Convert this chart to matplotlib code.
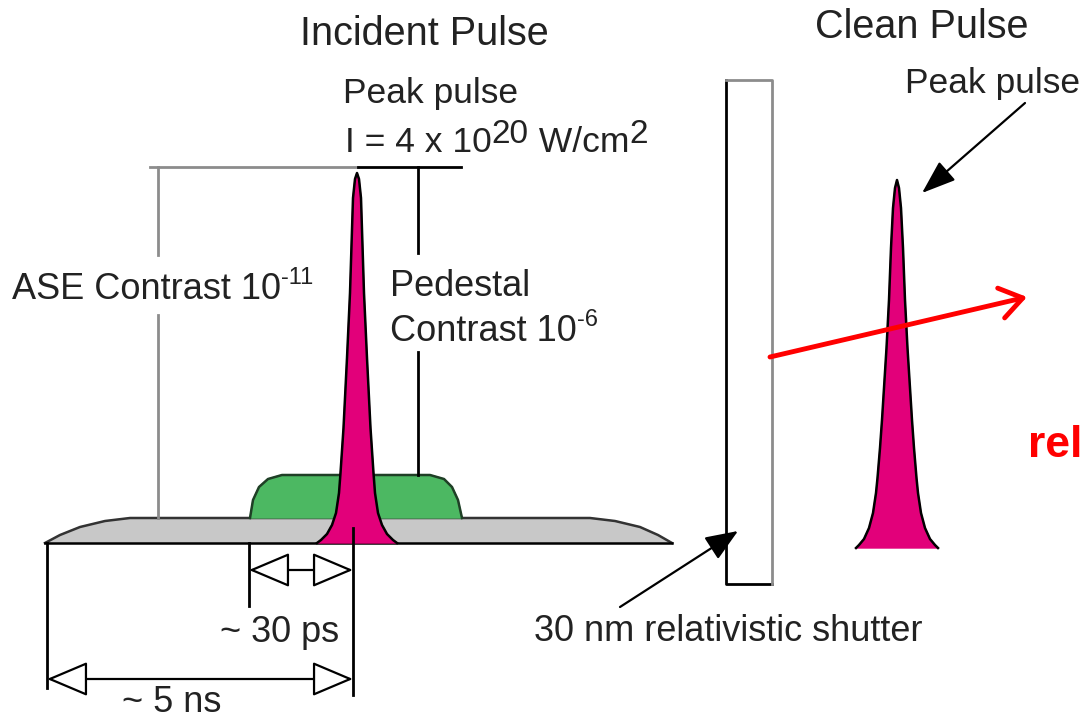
import matplotlib
matplotlib.use("Agg")
import matplotlib.pyplot as plt
import numpy as np

plt.rcParams["font.family"] = ["Liberation Sans", "DejaVu Sans"]

# pulse outlines (right half: offset from centre, height above base, px)
incident_dx = [0, 2, 4, 7, 10, 13.5, 16.5, 18, 21, 25, 30, 36, 40]
incident_h = [370, 364, 345, 250, 185, 115, 70, 50, 30, 18, 9, 3, 0]
clean_dx = [0, 2, 4, 6, 8, 10.5, 12.5, 15, 17, 19.5, 21, 24, 28, 33, 38, 41]
clean_h = [368, 360, 340, 300, 248, 200, 168, 128, 100, 70, 55, 35, 20, 9, 3, 0]

# ASE background and pedestal outlines (px)
ase_x = [45, 60, 80, 105, 130, 590, 615, 640, 658, 672]
ase_y = [543, 535, 527, 521, 518, 518, 521, 527, 535, 543]
ped_x = [250, 253, 259, 268, 282, 430, 444, 452, 458, 462]
ped_y = [518, 500, 487, 479, 475, 475, 479, 487, 500, 518]

titles = ["Incident Pulse", "Clean Pulse"]
peak_label = "Peak pulse"
intensity_parts = ["I = 4 x 10", "20", " W/cm", "2"]
ase_parts = ["ASE Contrast 10", "-11"]
ped_parts = ["Pedestal", "Contrast 10", "-6"]
dur_labels = ["~ 30 ps", "~ 5 ns"]
shutter_label = "30 nm relativistic shutter"
cut_label = "rel"

MAGENTA = "#e2007a"
GREEN = "#4cb862"
GREY = "#c8c8c8"
LINE_GREY = "#8c8c8c"
TXT = "#222222"

fig = plt.figure(figsize=(10.85, 7.21), dpi=100)
ax = fig.add_axes([0, 0, 1, 1])
ax.set_xlim(0, 1085)
ax.set_ylim(721, 0)
ax.axis("off")
renderer = fig.canvas.get_renderer()


def seq_text(x, y, parts, **kw):
    # parts: (text, fontsize, raise in px)
    for s, size, dy in parts:
        t = ax.text(x, y - dy, s, fontsize=size, va="baseline", ha="left", color=TXT, **kw)
        bb = t.get_window_extent(renderer)
        x = ax.transData.inverted().transform((bb.x1, bb.y0))[0]
    return x


def pulse(cx, base, dx, h, z):
    dx = np.array(dx)
    h = np.array(h)
    xs = np.concatenate([cx - dx[::-1], cx + dx[1:]])
    ys = np.concatenate([base - h[::-1], base - h[1:]])
    ax.fill(xs, ys, color=MAGENTA, zorder=z)
    ax.plot(xs, ys, color="black", lw=1.8, zorder=z + 0.1, solid_joinstyle="round")


# ASE background
ax.fill(ase_x, ase_y, color=GREY, zorder=1)
ax.plot(ase_x, ase_y, color="#333333", lw=1.8, zorder=1.1)
ax.plot([ase_x[0], ase_x[-1]], [ase_y[0], ase_y[-1]], color="black", lw=1.8, zorder=1.1)

# pedestal
ax.fill(ped_x, ped_y, color=GREEN, zorder=2)
ax.plot(ped_x, ped_y, color="#1f3f26", lw=1.8, zorder=2.1)

# pulses
pulse(357, 543, incident_dx, incident_h, 3)
pulse(897, 548, clean_dx, clean_h, 3)

# reference lines
ax.plot([150, 358], [167, 167], color=LINE_GREY, lw=2, zorder=4)
ax.plot([358, 461], [167, 167], color="black", lw=2, zorder=4)
ax.plot([158, 158], [167, 255], color=LINE_GREY, lw=2, zorder=4)
ax.plot([158, 158], [315, 518], color=LINE_GREY, lw=2, zorder=4)
ax.plot([418, 418], [167, 253], color="black", lw=2, zorder=4)
ax.plot([418, 418], [352, 475], color="black", lw=2, zorder=4)
ax.plot([47, 47], [543, 688], color="black", lw=2, zorder=4)
ax.plot([249, 249], [543, 606], color="black", lw=2, zorder=4)
ax.plot([353, 353], [528, 695], color="black", lw=2, zorder=4)

# duration arrows
for x0, x1, y in [(249, 353, 570), (47, 353, 679)]:
    ax.annotate("", xy=(x0, y), xytext=(x1, y),
                arrowprops=dict(arrowstyle="<|-|>,head_length=1.3,head_width=0.55",
                                fc="white", ec="black", lw=1.6, mutation_scale=20,
                                shrinkA=0, shrinkB=0), zorder=5)

# shutter
ax.plot([726, 726, 772], [80, 584, 584], color="black", lw=2, zorder=4)
ax.plot([726, 772, 772], [80, 80, 584], color=LINE_GREY, lw=2, zorder=4)

# arrows
ax.annotate("", xy=(738, 531), xytext=(620, 607),
            arrowprops=dict(arrowstyle="-|>,head_length=1.0,head_width=0.4",
                            fc="black", ec="black", lw=1.6, mutation_scale=20,
                            shrinkA=0, shrinkB=0), zorder=5)
ax.annotate("", xy=(922, 193), xytext=(1025, 103),
            arrowprops=dict(arrowstyle="-|>,head_length=1.05,head_width=0.38",
                            fc="black", ec="black", lw=1.6, mutation_scale=20,
                            shrinkA=0, shrinkB=0), zorder=5)
ax.annotate("", xy=(1027, 297), xytext=(770, 357),
            arrowprops=dict(arrowstyle="->,head_length=0.8,head_width=0.55",
                            color="#ff0000", lw=3.5, mutation_scale=20,
                            shrinkA=0, shrinkB=0), zorder=6)

# text
ax.text(424, 45, titles[0], fontsize=28.5, ha="center", va="baseline", color=TXT)
ax.text(922, 38, titles[1], fontsize=28.5, ha="center", va="baseline", color=TXT)
seq_text(343, 103, [(peak_label, 25.5, 0)])
seq_text(345, 152, [(intensity_parts[0], 25.5, 0), (intensity_parts[1], 24, 9),
                    (intensity_parts[2], 25.5, 0), (intensity_parts[3], 24, 9)])
seq_text(12, 299, [(ase_parts[0], 26, 0), (ase_parts[1], 17, 15)])
seq_text(390, 296, [(ped_parts[0], 26, 0)])
seq_text(390, 341, [(ped_parts[1], 26, 0), (ped_parts[2], 17, 15)])
ax.text(280, 642, dur_labels[0], fontsize=26, ha="center", va="baseline", color=TXT)
ax.text(172, 712, dur_labels[1], fontsize=26, ha="center", va="baseline", color=TXT)
ax.text(728, 641, shutter_label, fontsize=26, ha="center", va="baseline", color=TXT)
seq_text(905, 93, [(peak_label, 25.5, 0)])
ax.text(1082, 457, cut_label, fontsize=32, fontweight="bold", color="#ff0000",
        ha="right", va="baseline")

fig.savefig("out.png", dpi=100)
